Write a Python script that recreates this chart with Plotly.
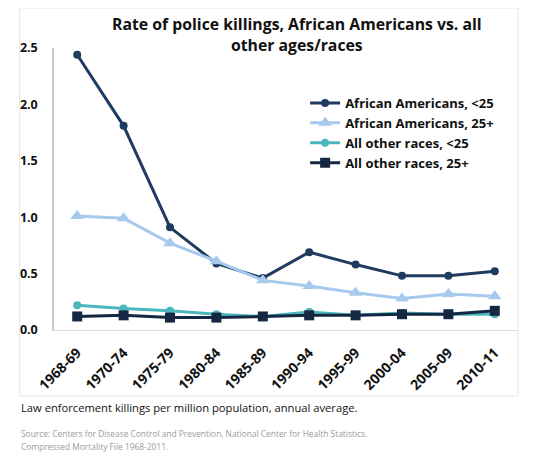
import plotly.graph_objects as go

periods = ["1968-69", "1970-74", "1975-79", "1980-84", "1985-89",
           "1990-94", "1995-99", "2000-04", "2005-09", "2010-11"]
aa_under25 = [2.44, 1.81, 0.91, 0.59, 0.46, 0.69, 0.58, 0.48, 0.48, 0.52]
aa_25plus = [1.01, 0.99, 0.77, 0.61, 0.44, 0.39, 0.33, 0.28, 0.32, 0.30]
other_under25 = [0.22, 0.19, 0.17, 0.14, 0.12, 0.16, 0.13, 0.15, 0.14, 0.14]
other_25plus = [0.12, 0.13, 0.11, 0.11, 0.12, 0.13, 0.13, 0.14, 0.14, 0.17]
y_ticks = [0.0, 0.5, 1.0, 1.5, 2.0, 2.5]

FONT = "Open Sans"

# page body margin offsets the figure by 8px
OFF = 8
W, H = 550 - OFF, 457 - OFF
# target pixel positions in the window
PL, PR, PT, PB = 45, 518, 48, 330
ML, MT = PL - OFF, PT - OFF
MR = W - (PR - OFF)
MB = H - (PB - OFF)
PW = PR - PL
PH = PB - PT


def px_x(px):
    return (px - PL) / PW


def px_y(py):
    return (PB - py) / PH


fig = go.Figure()
series = [
    ("African Americans, <25", aa_under25, "#1f3b60", "circle", 8),
    ("African Americans, 25+", aa_25plus, "#a7c9ee", "triangle-up", 12),
    ("All other races, <25", other_under25, "#4cb6be", "circle", 8),
    ("All other races, 25+", other_25plus, "#152841", "square", 10),
]
for name, vals, col, sym, size in series:
    fig.add_trace(go.Scatter(
        x=periods, y=vals, name=name, mode="lines+markers",
        line=dict(color=col, width=3),
        marker=dict(color=col, symbol=sym, size=size),
    ))

fig.update_layout(
    width=W, height=H,
    margin=dict(l=ML, r=MR, t=MT, b=MB, pad=0),
    paper_bgcolor="white", plot_bgcolor="white",
    font=dict(family=FONT, color="#111111"),
    showlegend=True,
    legend=dict(
        x=px_x(301), y=px_y(88), xanchor="left", yanchor="top",
        font=dict(family=FONT, size=13, color="#111111", weight="bold"),
        bgcolor="rgba(0,0,0,0)", itemwidth=30, tracegroupgap=0,
    ),
    xaxis=dict(
        type="category", range=[-0.5, 9.5],
        showgrid=False, zeroline=False,
        showline=True, linecolor="#dddddd", linewidth=1,
        ticks="", tickangle=-45, ticklabelstandoff=8,
        tickfont=dict(family=FONT, size=14, color="#111111", weight="bold"),
    ),
    yaxis=dict(
        range=[0, 2.5], tickvals=y_ticks, ticktext=[f"{v:.1f}" for v in y_ticks],
        showgrid=False, zeroline=False,
        showline=True, linecolor="#cccccc", linewidth=1.5,
        ticks="", ticklabelstandoff=12,
        tickfont=dict(family=FONT, size=12.5, color="#111111", weight="bold"),
    ),
    shapes=[dict(
        type="rect", xref="paper", yref="paper",
        x0=px_x(10), x1=px_x(518), y0=px_y(396), y1=px_y(8),
        line=dict(color="#e6e6e6", width=1), fillcolor="rgba(0,0,0,0)",
        layer="below",
    )],
    annotations=[
        dict(text="Rate of police killings, African Americans vs. all<br>other ages/races",
             xref="paper", yref="paper", x=px_x(293), y=px_y(35),
             xanchor="center", yanchor="middle", showarrow=False,
             font=dict(family=FONT, size=15.8, color="#111111", weight="bold")),
        dict(text="Law enforcement killings per million population, annual average.",
             xref="paper", yref="paper", x=px_x(9), y=px_y(407),
             xanchor="left", yanchor="middle", showarrow=False,
             font=dict(family=FONT, size=11.2, color="#111111")),
        dict(text="Source: Centers for Disease Control and Prevention, National Center for Health Statistics.",
             xref="paper", yref="paper", x=px_x(9), y=px_y(433),
             xanchor="left", yanchor="middle", showarrow=False,
             font=dict(family=FONT, size=8.4, color="#9a9a9a")),
        dict(text="Compressed Mortality File 1968-2011.",
             xref="paper", yref="paper", x=px_x(9), y=px_y(447),
             xanchor="left", yanchor="middle", showarrow=False,
             font=dict(family=FONT, size=8.4, color="#9a9a9a")),
    ],
)

fig.write_html("out.html")
